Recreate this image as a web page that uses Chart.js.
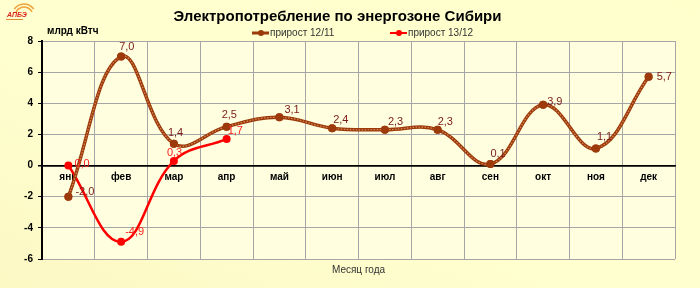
<!DOCTYPE html>
<html>
<head>
  <meta charset="utf-8">
  <title>Электропотребление по энергозоне Сибири</title>
  <script src="https://cdn.jsdelivr.net/npm/chart.js"></script>
  <style>
    body { margin: 0; }
    canvas { display: block; background: linear-gradient(to top right, #fcf8c4, #ffffd0 45%, #ffffcc); }
  </style>
</head>
<body>
<canvas id="chart" width="700" height="288"></canvas>
<script>
  const months = ["янв", "фев", "мар", "апр", "май", "июн", "июл", "авг", "сен", "окт", "ноя", "дек"];
  const growth1211 = [-2.0, 7.0, 1.4, 2.5, 3.1, 2.4, 2.3, 2.3, 0.1, 3.9, 1.1, 5.7];
  const growth1312 = [0.0, -4.9, 0.3, 1.7, null, null, null, null, null, null, null, null];
  const seriesNames = ["прирост 12/11", "прирост 13/12"];
  const yMin = -6, yMax = 8, yStep = 2;

  const BROWN = "#9c3a0c";
  const RED = "#ff0000";
  const FONT = "'Liberation Sans', Arial, sans-serif";

  // label offsets (px) from each point, left-aligned text
  const labelOffsets = [
    [[7, -5], [-2, -10], [-6, -11], [-5, -12], [5, -7], [1, -8], [3, -8], [0, -8], [0, -10], [4, -3], [1, -11], [8, 0]],
    [[6, -2], [4, -10], [-7, -8], [1, -8]]
  ];
  const labelColors = ["#7a1a1a", "#ff2020"];

  const fmt = v => v.toFixed(1).replace(".", ",");

  const plotBg = {
    id: "plotBg",
    beforeDraw(chart) {
      const { ctx, chartArea: a } = chart;
      ctx.save();
      ctx.fillStyle = "#ffffe0";
      ctx.fillRect(a.left, a.top, a.right - a.left, a.bottom - a.top);
      ctx.restore();
    }
  };

  // rope-like texture on the 12/11 line
  const ropeLine = {
    id: "ropeLine",
    afterDatasetDraw(chart, args) {
      if (args.index !== 0) return;
      const meta = args.meta;
      const ctx = chart.ctx;
      ctx.save();
      ctx.beginPath();
      meta.dataset.path(ctx);
      ctx.setLineDash([1.5, 1.5]);
      ctx.lineWidth = 1.2;
      ctx.strokeStyle = "#d88a55";
      ctx.stroke();
      ctx.restore();
      meta.data.forEach(p => p.draw(ctx));
    }
  };

  const valueLabels = {
    id: "valueLabels",
    afterDatasetsDraw(chart) {
      const ctx = chart.ctx;
      ctx.save();
      ctx.font = "11px " + FONT;
      ctx.textAlign = "left";
      ctx.textBaseline = "middle";
      chart.data.datasets.forEach((ds, di) => {
        const meta = chart.getDatasetMeta(di);
        ds.data.forEach((v, i) => {
          if (v === null) return;
          const p = meta.data[i];
          const off = labelOffsets[di][i];
          ctx.fillStyle = labelColors[di];
          ctx.fillText(fmt(v), p.x + off[0], p.y + off[1]);
        });
      });
      ctx.restore();
    }
  };

  const header = {
    id: "header",
    afterDraw(chart) {
      const ctx = chart.ctx;
      ctx.save();
      // logo
      ctx.strokeStyle = "#f2a23a";
      ctx.lineWidth = 1.5;
      ctx.beginPath();
      ctx.arc(24, 16, 9, Math.PI * 1.15, Math.PI * 1.85);
      ctx.stroke();
      ctx.beginPath();
      ctx.arc(24, 16, 12, Math.PI * 1.2, Math.PI * 1.8);
      ctx.stroke();
      ctx.fillStyle = "#d9261c";
      ctx.font = "bold italic 7px " + FONT;
      ctx.textAlign = "left";
      ctx.textBaseline = "middle";
      ctx.fillText("АПБЭ", 7, 15);
      ctx.fillStyle = "#e08a30";
      ctx.fillRect(6, 19, 17, 1);

      // unit
      ctx.fillStyle = "#000";
      ctx.font = "bold 10px " + FONT;
      ctx.fillText("млрд кВтч", 47, 31);

      // legend
      const items = [
        { x: 252, color: BROWN, w: 3 },
        { x: 390, color: RED, w: 2 }
      ];
      items.forEach((it, i) => {
        const y = 33;
        ctx.strokeStyle = it.color;
        ctx.lineWidth = it.w;
        ctx.beginPath();
        ctx.moveTo(it.x, y);
        ctx.lineTo(it.x + 17, y);
        ctx.stroke();
        ctx.fillStyle = it.color;
        ctx.beginPath();
        ctx.arc(it.x + 9, y, 3, 0, Math.PI * 2);
        ctx.fill();
        ctx.fillStyle = "#333";
        ctx.font = "10px " + FONT;
        ctx.fillText(chart.data.datasets[i].label, it.x + 18, y);
      });
      ctx.restore();
    }
  };

  new Chart(document.getElementById("chart"), {
    type: "line",
    data: {
      labels: months,
      datasets: [
        {
          label: seriesNames[0],
          data: growth1211,
          borderColor: BROWN,
          backgroundColor: BROWN,
          borderWidth: 3.5,
          pointRadius: 4,
          pointBackgroundColor: BROWN,
          pointBorderWidth: 0,
          tension: 0.4,
          fill: false
        },
        {
          label: seriesNames[1],
          data: growth1312,
          borderColor: RED,
          backgroundColor: RED,
          borderWidth: 2.5,
          pointRadius: 4,
          pointBackgroundColor: RED,
          pointBorderWidth: 0,
          tension: 0.4,
          fill: false,
          spanGaps: false
        }
      ]
    },
    options: {
      responsive: false,
      animation: false,
      layout: { padding: { left: 0, right: 25, top: 0, bottom: 0 } },
      plugins: {
        legend: { display: false },
        tooltip: { enabled: false },
        title: {
          display: true,
          text: "Электропотребление по энергозоне Сибири",
          color: "#000",
          font: { family: FONT, size: 15, weight: "bold" },
          padding: { top: 8, bottom: 15 }
        }
      },
      scales: {
        x: {
          type: "category",
          position: { y: 0 },
          offset: true,
          grid: { offset: true, drawTicks: false, color: "#a6a6a6", lineWidth: 1 },
          border: { color: "#000", width: 1.5 },
          ticks: { color: "#000", padding: 6, font: { family: FONT, size: 10, weight: "bold" } }
        },
        x2: {
          type: "category",
          position: "bottom",
          labels: months,
          offset: true,
          grid: { display: false },
          border: { display: false },
          ticks: { display: false },
          title: {
            display: true,
            text: "Месяц года",
            color: "#333",
            font: { family: FONT, size: 10 },
            padding: { top: 0, bottom: 12 }
          },
          afterFit(scale) { scale.height = 29; }
        },
        y: {
          min: yMin,
          max: yMax,
          ticks: {
            stepSize: yStep,
            color: "#000",
            padding: 5,
            font: { family: FONT, size: 10, weight: "bold" }
          },
          grid: {
            color: c => (c.tick && c.tick.value === 0 ? "#000" : "#a6a6a6"),
            lineWidth: c => (c.tick && c.tick.value === 0 ? 1.5 : 1),
            tickColor: "#000",
            tickLength: 4
          },
          border: { color: "#000", width: 2 },
          afterFit(scale) { scale.width = 42; }
        }
      }
    },
    plugins: [plotBg, ropeLine, valueLabels, header]
  });
</script>
</body>
</html>
